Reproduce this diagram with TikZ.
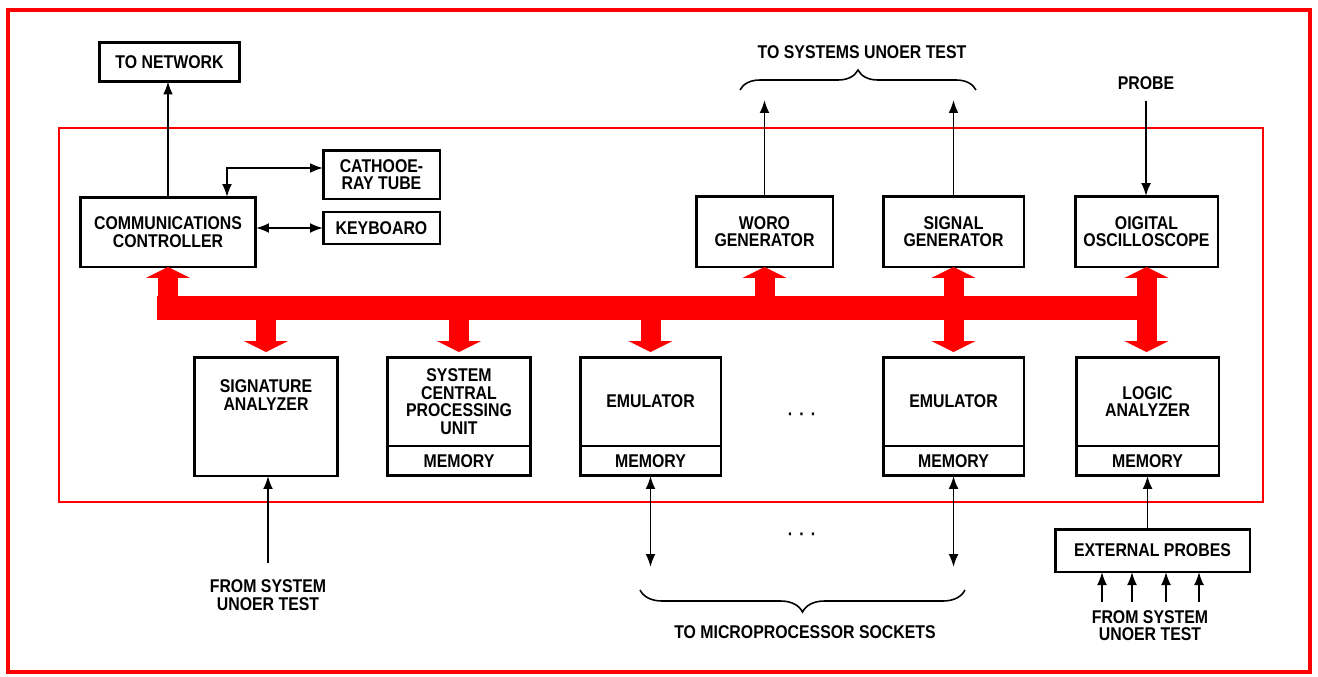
\documentclass[tikz,border=0pt]{standalone}
\usepackage{fontspec}
\setmainfont{Liberation Sans}[FakeStretch=0.86]
\usepackage{tikz}
\usetikzlibrary{arrows.meta,positioning,calc,decorations.pathreplacing}

\begin{document}
\begin{tikzpicture}[
    x=0.02cm, y=-0.02cm,
    font=\fontsize{10.5pt}{10pt}\selectfont\bfseries,
    box/.style={rectangle, draw=black, line width=1.7pt, align=center, inner sep=0pt, outer sep=0pt},
    memory/.style={box, minimum height=0.6cm},
    caption/.style={align=center},
    arrow/.style={-{Latex[length=2.6mm, width=2mm]}, line width=1.1pt},
    dblarrow/.style={{Latex[length=2.6mm, width=2mm]}-{Latex[length=2.6mm, width=2mm]}, line width=1.1pt},
    bus/.style={draw=red, line width=0.48cm},
    busarrow/.style={draw=red, line width=0.4cm, -{Triangle[width=0.88cm, length=0.22cm]}},
    busdbl/.style={draw=red, line width=0.4cm, {Triangle[width=0.88cm, length=0.22cm]}-{Triangle[width=0.88cm, length=0.22cm]}},
    curly/.style={decorate, decoration={brace, amplitude=#1}, line width=0.9pt}
  ]
    \useasboundingbox (0,0) rectangle (1318,676);
    % frames
    \draw[red, line width=2.8pt] (8,10) rectangle (1310,672);
    \draw[red, line width=1.4pt] (59,128) rectangle (1263,502);

    % top row
    \node[box, minimum width=2.82cm, minimum height=0.78cm] (network) at (169.5,62) {TO NETWORK};
    \node[box, minimum width=3.52cm, minimum height=1.4cm] (comm) at (168,232) {COMMUNICATIONS\\CONTROLLER};
    \node[box, minimum width=2.34cm, minimum height=0.98cm] (crt) at (381.5,174.5) {CATHOOE-\\RAY TUBE};
    \node[box, minimum width=2.34cm, minimum height=0.64cm] (kbd) at (381.5,228) {KEYBOARO};
    \node[box, minimum width=2.74cm, minimum height=1.42cm] (word) at (764.5,231.5) {WORO\\GENERATOR};
    \node[box, minimum width=2.82cm, minimum height=1.42cm] (siggen) at (953.5,231.5) {SIGNAL\\GENERATOR};
    \node[box, minimum width=2.86cm, minimum height=1.42cm] (osc) at (1146.5,231.5) {OIGITAL\\OSCILLOSCOPE};

    % bottom row
    \node[box, minimum width=2.88cm, minimum height=2.38cm] (siga) at (266,416.5) {SIGNATURE\\ANALYZER\\[1.4em]};
    \node[box, minimum width=2.88cm, minimum height=1.78cm] (cpu) at (459,401.5) {SYSTEM\\CENTRAL\\PROCESSING\\UNIT};
    \node[memory, minimum width=2.88cm, below=0pt of cpu] (cpumem) {MEMORY};
    \node[box, minimum width=2.82cm, minimum height=1.78cm] (emua) at (650.5,401.5) {EMULATOR};
    \node[memory, minimum width=2.82cm, below=0pt of emua] (emuamem) {MEMORY};
    \node[box, minimum width=2.82cm, minimum height=1.78cm] (emub) at (953.5,401.5) {EMULATOR};
    \node[memory, minimum width=2.82cm, below=0pt of emub] (emubmem) {MEMORY};
    \node[box, minimum width=2.86cm, minimum height=1.78cm] (logic) at (1147.5,401.5) {LOGIC\\ANALYZER};
    \node[memory, minimum width=2.86cm, below=0pt of logic] (logicmem) {MEMORY};
    \node[box, minimum width=3.9cm, minimum height=0.86cm] (extprobes) at (1152.5,550.5) {EXTERNAL PROBES};

    % labels
    \node (systems) at (862,52) {TO SYSTEMS UNOER TEST};
    \node (probe) at (1146,83) {PROBE};
    \node[caption] (fromsig) at (268,595) {FROM SYSTEM\\UNOER TEST};
    \node[caption] (fromext) at (1150,625.5) {FROM SYSTEM\\UNOER TEST};
    \node (sockets) at (805,632) {TO MICROPROCESSOR SOCKETS};
    \node (dotsa) at (802,417) {·\,\,·\,\,·};
    \node (dotsb) at (802,537) {·\,\,·\,\,·};

    % free ends
    \coordinate (wordout) at (764.5,100);
    \coordinate (sigout) at (953.5,100);
    \coordinate (emuaout) at (650.5,567);
    \coordinate (emubout) at (953.5,567);

    % black connectors
    \draw[arrow] (comm.north) -- (comm.north |- network.south);
    \draw[dblarrow] ([yshift=1.3mm]crt.west) -| ([xshift=11.8mm]comm.north);
    \draw[dblarrow] (comm.east |- kbd.west) -- (kbd.west);
    \draw[arrow] (word.north) -- (wordout);
    \draw[arrow] (siggen.north) -- (sigout);
    \draw[arrow, shorten <=1mm] (probe.south) -- (probe.south |- osc.north);
    \draw[arrow, shorten <=2mm] (fromsig.north) -- (fromsig.north |- siga.south);
    \draw[dblarrow] (emuamem.south) -- (emuaout);
    \draw[dblarrow] (emubmem.south) -- (emubout);
    \draw[arrow] (logicmem.south |- extprobes.north) -- (logicmem.south);
    \foreach \x [count=\i] in {1102,1132,1166,1199} {
      \coordinate (in\i) at (\x,602);
      \draw[arrow] (in\i) -- (in\i |- extprobes.south);
    }

    % braces
    \draw[curly=0.4cm] (740,90) -- (976,90);
    \draw[curly=0.44cm] (965,590) -- (640,590);

    % bus
    \coordinate (busl) at (157,308);
    \coordinate (busr) at (1157,308);
    \draw[bus] (busl) -- (busr);
    \foreach \n in {comm,word}
      \draw[busarrow] (\n.south |- busl) -- (\n.south);
    \foreach \n in {siga,cpu,emua}
      \draw[busarrow, shorten >=1mm] (\n.north |- busl) -- (\n.north);
    \draw[busdbl, shorten >=1mm] (siggen.south) -- (emub.north);
    \draw[busdbl, shorten >=1mm] (osc.south) -- (osc.south |- logic.north);
  \end{tikzpicture}
\end{document}
